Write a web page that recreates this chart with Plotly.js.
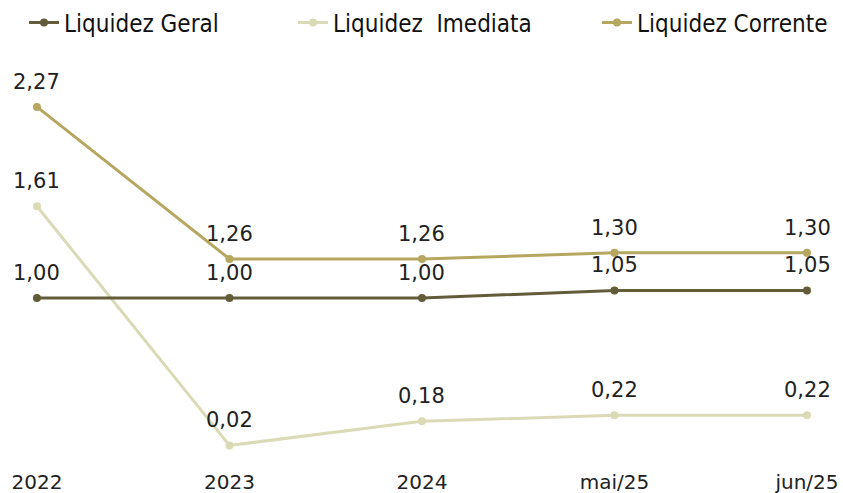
<!DOCTYPE html>
<html>
<head>
<meta charset="utf-8">
<script src="https://cdn.plot.ly/plotly-3.0.1.min.js"></script>
<style>html,body{margin:0;padding:0;background:#fff;}#chart{width:843px;height:493px;}</style>
</head>
<body>
<div id="chart"></div>
<script>
const categories = ["2022", "2023", "2024", "mai/25", "jun/25"];
const liquidezGeral = [1.00, 1.00, 1.00, 1.05, 1.05];
const liquidezImediata = [1.61, 0.02, 0.18, 0.22, 0.22];
const liquidezCorrente = [2.27, 1.26, 1.26, 1.30, 1.30];
const seriesNames = ["Liquidez Geral", "Liquidez  Imediata", "Liquidez Corrente"];

const fmt = v => v.toFixed(2).replace(".", ",");
const labelFont = {family: "DejaVu Sans", size: 21, color: "#222222"};

function mk(name, vals, color, legendId) {
  return {
    type: "scatter",
    mode: "lines+markers",
    x: categories,
    y: vals,
    name: name,
    line: {color: color, width: 3},
    marker: {color: color, size: 8},
    hoverinfo: "skip",
    cliponaxis: false,
    legend: legendId
  };
}

const data = [
  mk(seriesNames[1], liquidezImediata, "#DADAB6", "legend2"),
  mk(seriesNames[0], liquidezGeral, "#625C3A", "legend"),
  mk(seriesNames[2], liquidezCorrente, "#B5A760", "legend3")
];

const annotations = [];
[liquidezGeral, liquidezImediata, liquidezCorrente].forEach(vals => {
  vals.forEach((v, i) => {
    annotations.push({
      x: i, y: v, xref: "x", yref: "y",
      text: fmt(v), showarrow: false,
      xanchor: "center", yanchor: "middle", yshift: 25,
      font: labelFont
    });
  });
});

const legFont = {family: "DejaVu Sans Condensed, sans-serif", size: 24, color: "#111111"};
function leg(x) {
  return {orientation: "h", x: x, xanchor: "left", y: 1.147, yanchor: "top",
          font: legFont, bgcolor: "rgba(0,0,0,0)", itemwidth: 30};
}

const layout = {
  width: 843, height: 493,
  margin: {l: 0, r: 0, t: 60, b: 28},
  paper_bgcolor: "#ffffff", plot_bgcolor: "#ffffff",
  showlegend: true,
  legend: leg(24/843),
  legend2: leg(293/843),
  legend3: leg(597/843),
  annotations: annotations,
  xaxis: {
    type: "category",
    range: [-0.192, 4.187],
    showgrid: false, zeroline: false, showline: false,
    ticks: "", automargin: false, ticklabelstandoff: 3,
    tickfont: {family: "DejaVu Sans", size: 20, color: "#222222"}
  },
  yaxis: {
    range: [-0.11, 2.582],
    visible: false, showgrid: false, zeroline: false, fixedrange: true
  }
};

Plotly.newPlot("chart", data, layout, {displayModeBar: false, staticPlot: true});
</script>
</body>
</html>
